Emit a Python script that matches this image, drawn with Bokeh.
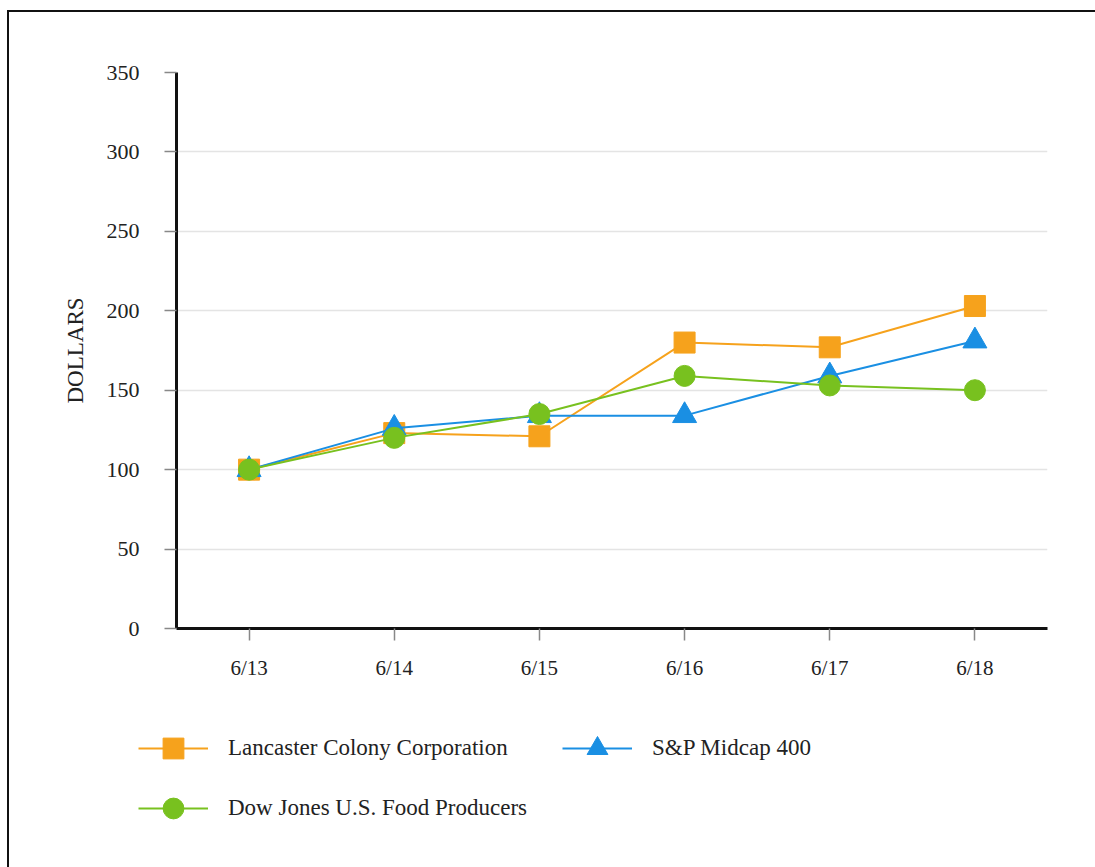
from bokeh.plotting import figure
from bokeh.layouts import column
from bokeh.models import Range1d, FactorRange, Legend, LegendItem, SingleIntervalTicker, ColumnDataSource
from bokeh.embed import file_html
from bokeh.resources import INLINE

years = ["6/13", "6/14", "6/15", "6/16", "6/17", "6/18"]
lancaster = [100, 123, 121, 180, 177, 203]
sp_midcap = [100, 126, 134, 134, 159, 181]
dow_food = [100, 120, 135, 159, 153, 150]
series_names = ["Lancaster Colony Corporation", "S&P Midcap 400", "Dow Jones U.S. Food Producers"]

ORANGE = "#F6A21C"
BLUE = "#1A8FE3"
GREEN = "#78C11F"
FONT = "Liberation Serif"

p = figure(width=1086, height=690, x_range=FactorRange(*years, range_padding=0),
           y_range=Range1d(0, 350), output_backend="svg", toolbar_location=None,
           min_border_left=167, min_border_right=48, min_border_top=60, min_border_bottom=74)
p.outline_line_color = None
p.background_fill_color = "white"
p.border_fill_color = "white"

p.xgrid.grid_line_color = None
p.ygrid.grid_line_color = "#E4E4E4"
p.ygrid.grid_line_width = 1.5
p.yaxis.ticker = SingleIntervalTicker(interval=50)
p.yaxis.minor_tick_line_color = None

for ax in (p.xaxis[0], p.yaxis[0]):
    ax.axis_line_color = "#111111"
    ax.axis_line_width = 3
    ax.major_tick_line_color = "#888888"
    ax.major_tick_line_width = 1.5
    ax.major_tick_in = 0
    ax.major_tick_out = 12
    ax.major_label_text_font = FONT
    ax.major_label_text_color = "#222222"

p.xaxis.major_label_text_font_size = "21px"
p.yaxis.major_label_text_font_size = "22px"
p.xaxis.major_label_standoff = 15
p.yaxis.major_label_standoff = 25
p.yaxis.axis_label = "DOLLARS"
p.yaxis.axis_label_text_font = FONT
p.yaxis.axis_label_text_font_style = "normal"
p.yaxis.axis_label_text_font_size = "23px"
p.yaxis.axis_label_text_color = "#222222"
p.yaxis.axis_label_standoff = 16

p.line(years, lancaster, line_color=ORANGE, line_width=2)
p.scatter(years, lancaster, marker="square", size=21, fill_color=ORANGE, line_color=ORANGE)
p.line(years, sp_midcap, line_color=BLUE, line_width=2)
p.scatter(years, sp_midcap, marker="triangle", size=24, fill_color=BLUE, line_color=BLUE)
p.line(years, dow_food, line_color=GREEN, line_width=2)
p.scatter(years, dow_food, marker="circle", size=21, fill_color=GREEN, line_color=GREEN)

# Legend panel (separate figure so the legend may sit left of the plot frame)
leg = figure(width=1086, height=165, x_range=Range1d(0, 1), y_range=Range1d(0, 1),
             output_backend="svg", toolbar_location=None, min_border=0,
             min_border_left=0, min_border_right=0, min_border_top=0, min_border_bottom=0)
for fig in (p, leg):
    if "frame_align" in fig.properties():
        fig.frame_align = False
leg.axis.visible = False
leg.grid.visible = False
leg.outline_line_color = None
leg.border_fill_color = "white"
offscreen = ColumnDataSource(data=dict(x=[5, 6], y=[5, 6]))
items = []
for name, col, mk in zip(series_names, [ORANGE, BLUE, GREEN], ["square", "triangle", "circle"]):
    lr = leg.line("x", "y", source=offscreen, line_color=col, line_width=2)
    sr = leg.scatter("x", "y", source=offscreen, marker=mk, size=20, fill_color=col, line_color=col)
    items.append(LegendItem(label=name, renderers=[lr, sr]))
items = [items[0], items[2], items[1]]  # column-major fill: col 1 = Lancaster, Dow Jones

legend = Legend(items=items, ncols=2, location=(129, 33), glyph_width=70, glyph_height=52,
                label_standoff=20, label_text_font=FONT, label_text_font_size="23px",
                label_text_color="#222222", spacing=8, padding=0, margin=0, label_width=326,
                border_line_color=None, background_fill_alpha=0, label_height=24)
leg.add_layout(legend, "center")

layout = column(p, leg, spacing=0, margin=(10, 0, 0, 7),
                styles={"border-top": "2px solid #111", "border-left": "2px solid #111"})

open("out.html", "w").write(file_html(layout, INLINE))
